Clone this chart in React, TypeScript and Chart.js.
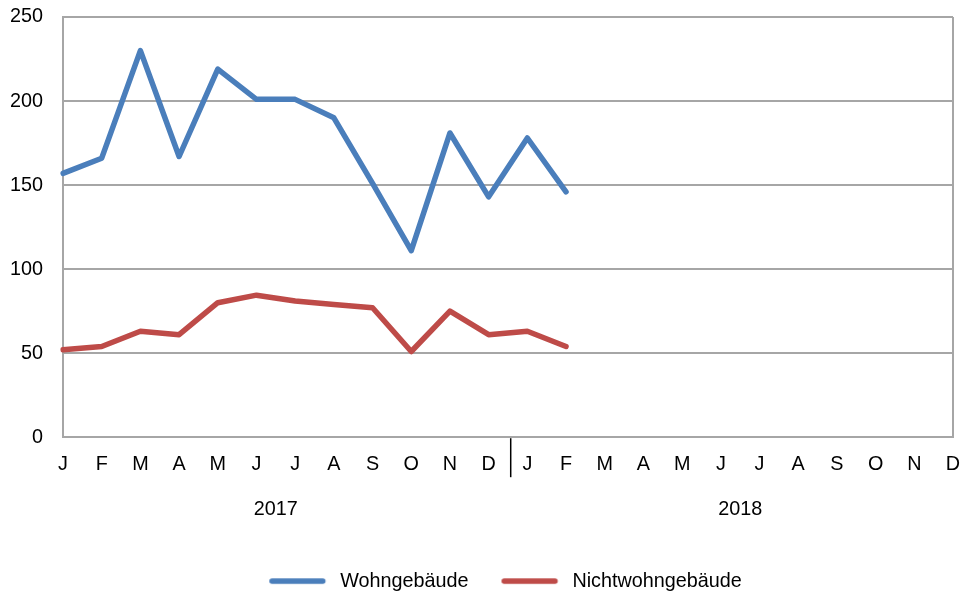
import React, { useEffect, useRef } from "react";
import { Chart, registerables } from "chart.js";

Chart.register(...registerables);

const monthLabels = ["J","F","M","A","M","J","J","A","S","O","N","D","J","F","M","A","M","J","J","A","S","O","N","D"];
const years = ["2017", "2018"];
const wohn = [157, 166, 230, 167, 219, 201, 201, 190, 151, 111, 181, 143, 178, 146, null, null, null, null, null, null, null, null, null, null];
const nichtwohn = [52, 54, 63, 61, 80, 84.5, 81, 79, 77, 51, 75, 61, 63, 54, null, null, null, null, null, null, null, null, null, null];
const yTicks = [0, 50, 100, 150, 200, 250];

const FONT = "'Liberation Sans', Arial, sans-serif";
const GRID = "#A6A6A6";
const BLUE = "#4A7EBB";
const RED = "#BE4B48";
const FS = 19.8;
const LW = 5.5;

// legend marker: transparent lead, 55px round-capped line, small trailing gap
const LEAD = 23;
const MARK_W = LEAD + 61;
function makeMarker(color: string) {
  const c = document.createElement("canvas");
  c.width = MARK_W;
  c.height = 10;
  const g = c.getContext("2d")!;
  g.strokeStyle = color;
  g.lineWidth = LW;
  g.lineCap = "round";
  g.beginPath();
  g.moveTo(LEAD + 2.75, 5);
  g.lineTo(LEAD + 53.5, 5);
  g.stroke();
  return c;
}

const legendShift = {
  id: "legendShift",
  afterLayout(chart: any) {
    const lg = chart.legend;
    if (lg) {
      lg.left += 17.5;
      lg.right += 17.5;
    }
  },
};

const yearPlugin = {
  id: "yearLabels",
  afterDraw(chart: any) {
    const x = chart.scales.x;
    const ctx = chart.ctx;
    const bottom = chart.chartArea.bottom;
    ctx.save();
    const d = x.getPixelForValue(11);
    const j = x.getPixelForValue(12);
    const sep = d + (j - d) * 0.57;
    ctx.strokeStyle = "#000";
    ctx.lineWidth = 1.5;
    ctx.beginPath();
    ctx.moveTo(sep, bottom + 1);
    ctx.lineTo(sep, bottom + 40);
    ctx.stroke();
    ctx.fillStyle = "#000";
    ctx.font = `${FS}px ${FONT}`;
    ctx.textAlign = "center";
    ctx.textBaseline = "middle";
    years.forEach((yr, i) => {
      const a = x.getPixelForValue(i * 12);
      const b = x.getPixelForValue(i * 12 + 11);
      ctx.fillText(yr, (a + b) / 2, bottom + 72);
    });
    ctx.restore();
  },
};

export default function App() {
  const ref = useRef<HTMLCanvasElement>(null);
  useEffect(() => {
    document.body.style.margin = "0";
    const chart = new Chart(ref.current!, {
      type: "line",
      data: {
        labels: monthLabels,
        datasets: [
          {
            label: "Wohngebäude",
            data: wohn,
            borderColor: BLUE,
            backgroundColor: BLUE,
            borderWidth: LW,
            pointRadius: 0,
            pointStyle: makeMarker(BLUE),
            tension: 0,
            borderCapStyle: "round",
            borderJoinStyle: "round",
          },
          {
            label: "Nichtwohngebäude",
            data: nichtwohn,
            borderColor: RED,
            backgroundColor: RED,
            borderWidth: LW,
            pointRadius: 0,
            pointStyle: makeMarker(RED),
            tension: 0,
            borderCapStyle: "round",
            borderJoinStyle: "round",
          },
        ],
      },
      options: {
        responsive: false,
        animation: false,
        layout: { padding: { top: 17, right: 12, left: 0, bottom: -2 } },
        plugins: {
          tooltip: { enabled: false },
          legend: {
            position: "bottom",
            labels: {
              usePointStyle: true,
              pointStyleWidth: MARK_W,
              boxHeight: 10,
              padding: 10,
              color: "#000",
              font: { family: FONT, size: FS },
            },
          },
        },
        scales: {
          x: {
            offset: false,
            afterFit: (s: any) => {
              s.height = 124;
              s.paddingLeft = 0;
              s.paddingRight = 0;
            },
            grid: {
              drawTicks: false,
              lineWidth: 2,
              color: (c: any) => (c.index === 0 || c.index === monthLabels.length - 1 ? GRID : "rgba(0,0,0,0)"),
            },
            border: { display: true, color: GRID, width: 2 },
            ticks: {
              autoSkip: false,
              maxRotation: 0,
              padding: 15,
              color: "#000",
              font: { family: FONT, size: FS },
            },
          },
          y: {
            min: 0,
            max: 250,
            afterFit: (s: any) => {
              s.width = 63;
              s.paddingTop = 0;
              s.paddingBottom = 0;
            },
            afterBuildTicks: (s: any) => { s.ticks = yTicks.map((v) => ({ value: v })); },
            grid: { drawTicks: false, color: GRID, lineWidth: 2 },
            border: { display: true, color: GRID, width: 2 },
            ticks: {
              padding: 20,
              color: "#000",
              font: { family: FONT, size: FS },
            },
          },
        },
      },
      plugins: [yearPlugin, legendShift],
    });
    return () => chart.destroy();
  }, []);
  return <canvas ref={ref} width={965} height={599} style={{ display: "block" }} />;
}
